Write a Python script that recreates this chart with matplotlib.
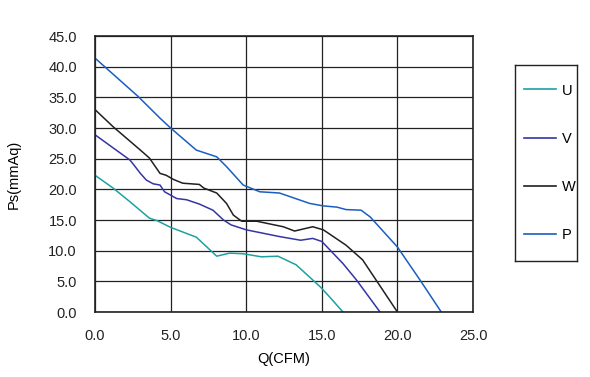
import matplotlib
matplotlib.use("Agg")
import matplotlib.pyplot as plt
from matplotlib.lines import Line2D

plt.rcParams['font.family'] = ['Liberation Sans', 'DejaVu Sans']

# curvas (Q en CFM, Ps en mmAq)
u_q = [0.0, 1.2, 2.3, 3.6, 4.1, 5.0, 6.7, 7.4, 8.05, 8.9, 9.8, 11.0, 12.1, 13.3, 14.9, 15.5, 16.4]
u_ps = [22.3, 20.2, 18.0, 15.3, 14.9, 13.8, 12.2, 10.6, 9.1, 9.6, 9.5, 9.0, 9.1, 7.7, 4.1, 2.5, 0.0]

v_q = [0.0, 1.4, 2.3, 2.5, 3.0, 3.4, 3.85, 4.3, 4.6, 5.4, 6.06, 6.9, 7.8, 8.5, 9.0, 10.0, 12.2,
       13.6, 14.4, 15.0, 16.4, 17.3, 18.85]
v_ps = [28.9, 26.4, 24.8, 24.2, 22.6, 21.5, 20.9, 20.7, 19.6, 18.5, 18.3, 17.6, 16.6, 15.0, 14.2,
        13.4, 12.3, 11.7, 12.0, 11.5, 7.9, 5.2, 0.0]

w_q = [0.0, 1.2, 3.0, 3.6, 4.3, 4.7, 5.2, 5.8, 6.9, 7.2, 8.05, 8.7, 9.15, 9.7, 10.7, 12.45,
       13.2, 14.4, 15.1, 16.6, 17.7, 20.0]
w_ps = [33.0, 30.2, 26.4, 25.1, 22.6, 22.3, 21.6, 21.0, 20.8, 20.2, 19.4, 17.7, 15.8, 14.8, 14.8,
        13.9, 13.2, 13.9, 13.4, 10.9, 8.5, 0.0]

p_q = [0.0, 2.87, 4.3, 5.0, 6.7, 8.05, 8.7, 9.8, 10.9, 12.2, 14.2, 15.1, 16.0, 16.6, 17.6, 18.2,
       20.0, 21.5, 22.9]
p_ps = [41.4, 35.1, 31.6, 30.0, 26.4, 25.3, 23.7, 20.7, 19.6, 19.4, 17.7, 17.3, 17.1, 16.7, 16.6,
        15.5, 10.6, 5.2, 0.0]

etiquetas = ['U', 'V', 'W', 'P']
colores = ['#1fa0a0', '#3535a5', '#202020', '#1a5fc0']
x_ticks = [0, 5, 10, 15, 20, 25]
y_ticks = [0, 5, 10, 15, 20, 25, 30, 35, 40, 45]

fig = plt.figure(figsize=(5.9, 3.77), dpi=100)
ax = fig.add_axes([95 / 590, 1 - 312 / 377, 378 / 590, 276 / 377])

curvas = [(u_q, u_ps), (v_q, v_ps), (w_q, w_ps), (p_q, p_ps)]
for (q, ps), c in zip(curvas, colores):
    ax.plot(q, ps, color=c, lw=1.1)

ax.set_xlim(0, 25)
ax.set_ylim(0, 45)
ax.set_xticks(x_ticks)
ax.set_yticks(y_ticks)
ax.set_xticklabels([f"{t:.1f}" for t in x_ticks])
ax.set_yticklabels([f"{t:.1f}" for t in y_ticks])
ax.grid(True, color='#222222', lw=0.9)
ax.set_axisbelow(True)
for s in ax.spines.values():
    s.set_color('#222222')
    s.set_linewidth(1.2)
ax.tick_params(labelsize=10.5, length=0, colors='#222222')
ax.tick_params(axis='y', pad=13)
ax.tick_params(axis='x', pad=12)
ax.set_xlabel('Q(CFM)', fontsize=10.5, labelpad=7)
ax.set_ylabel('Ps(mmAq)', fontsize=10.5, labelpad=20)

# caja de leyenda
ax_leg = fig.add_axes([515 / 590, 1 - 261 / 377, 62 / 590, 196 / 377])
ax_leg.set_xticks([])
ax_leg.set_yticks([])
for s in ax_leg.spines.values():
    s.set_color('#222222')
    s.set_linewidth(1.0)
handles = [Line2D([], [], color=c, lw=1.2) for c in colores]
leg = ax_leg.legend(handles, etiquetas, loc='center', frameon=False, fontsize=10.5,
                    handlelength=2.2, handletextpad=0.4, labelspacing=2.35,
                    bbox_to_anchor=(0.56, 0.5))

fig.savefig('out.png', dpi=100)
